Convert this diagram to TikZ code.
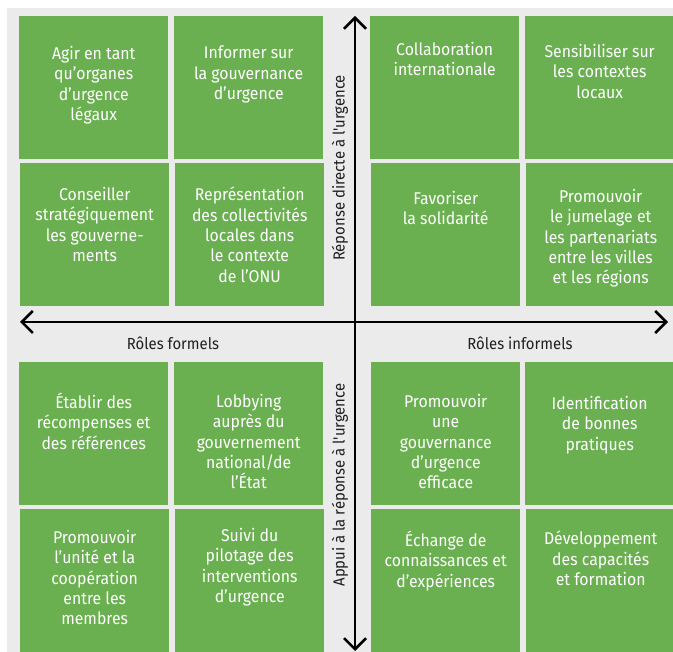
\documentclass[tikz,border=0pt]{standalone}
\usepackage{fontspec}
\setmainfont{Fira Sans}
\newfontfamily\narrowsans[FakeStretch=0.93]{Fira Sans}
\usetikzlibrary{positioning,arrows.meta}

\definecolor{cellgreen}{RGB}{106,176,80}
\definecolor{panelgray}{RGB}{235,235,235}

\tikzset{
  cell/.style={fill=cellgreen, anchor=north west, minimum width=149pt,
    minimum height=143pt, inner sep=0pt},
  celltext/.style={text=white, align=center, inner sep=0pt,
    font=\narrowsans\fontsize{17}{20.3}\selectfont},
  axis/.style={{Straight Barb[length=11pt,width=22pt]}-{Straight Barb[length=11pt,width=22pt]},
    line width=2.5pt},
  axislabel/.style={text=black!88, inner sep=0pt,
    font=\narrowsans\fontsize{16}{20}\selectfont}
}

\begin{document}
\begin{tikzpicture}[x=1pt,y=-1pt]
\useasboundingbox (0,0) rectangle (673,652);
\clip (0,0) rectangle (673,652);
\fill[panelgray] (7,8) rectangle (673,652);

% upper left: formal roles, direct response
\node[cell] (a1) at (19,16) {};
\node[celltext, below=30pt of a1.north] (a1t) {Agir en tant\\qu’organes\\d’urgence\\légaux};
\node[cell] (a2) at (174,16) {};
\node[celltext, below=30pt of a2.north] (a2t) {Informer sur\\la gouvernance\\d’urgence};
\node[cell] (b1) at (20,163) {};
\node[celltext, below=24pt of b1.north] (b1t) {Conseiller\\stratégiquement\\les gouverne-\\ments};
\node[cell] (b2) at (175,163) {};
\node[celltext, below=24pt of b2.north] (b2t) {Représentation\\des collectivités\\locales dans\\le contexte\\de l’ONU};

% upper right: informal roles, direct response
\node[cell] (a3) at (370,16) {};
\node[celltext, below=26pt of a3.north] (a3t) {Collaboration\\internationale};
\node[cell] (a4) at (525,16) {};
\node[celltext, below=28pt of a4.north] (a4t) {Sensibiliser sur\\les contextes\\locaux};
\node[cell] (b3) at (371,163) {};
\node[celltext, below=28pt of b3.north] (b3t) {Favoriser\\la solidarité};
\node[cell] (b4) at (526,163) {};
\node[celltext, below=26pt of b4.north] (b4t) {Promouvoir\\le jumelage et\\les partenariats\\entre les villes\\et les régions};

% lower left: formal roles, support
\node[cell] (c1) at (19,362) {};
\node[celltext, below=31pt of c1.north] (c1t) {Établir des\\récompenses et\\des références};
\node[cell] (c2) at (174,362) {};
\node[celltext, below=32pt of c2.north] (c2t) {Lobbying\\auprès du\\gouvernement\\national/de\\l’État};
\node[cell] (d1) at (20,509) {};
\node[celltext, below=21pt of d1.north] (d1t) {Promouvoir\\l’unité et la\\coopération\\entre les\\membres};
\node[cell] (d2) at (175,509) {};
\node[celltext, below=19pt of d2.north] (d2t) {Suivi du\\pilotage des\\interventions\\d’urgence};

% lower right: informal roles, support
\node[cell] (c3) at (371,362) {};
\node[celltext, below=32pt of c3.north] (c3t) {Promouvoir\\une\\gouvernance\\d’urgence\\efficace};
\node[cell] (c4) at (525,362) {};
\node[celltext, below=34pt of c4.north] (c4t) {Identification\\de bonnes\\pratiques};
\node[cell] (d3) at (371,509) {};
\node[celltext, below=22pt of d3.north] (d3t) {Échange de\\connaissances et\\d’expériences};
\node[cell] (d4) at (526,509) {};
\node[celltext, below=22pt of d4.north] (d4t) {Développement\\des capacités\\et formation};

% axes
\coordinate (west) at (20,322);
\coordinate (east) at (668,322);
\coordinate (north) at (355,16);
\coordinate (south) at (355,651);
\draw[axis] (west) -- (east);
\draw[axis] (south) -- (north);

\node[axislabel] (formal) at (173,343) {Rôles formels};
\node[axislabel] (informal) at (520,343) {Rôles informels};
\node[axislabel, rotate=90] (direct) at (340,168) {Réponse directe à l'urgence};
\node[axislabel, rotate=90] (support) at (340,485) {Appui à la réponse à l'urgence};
\end{tikzpicture}
\end{document}
